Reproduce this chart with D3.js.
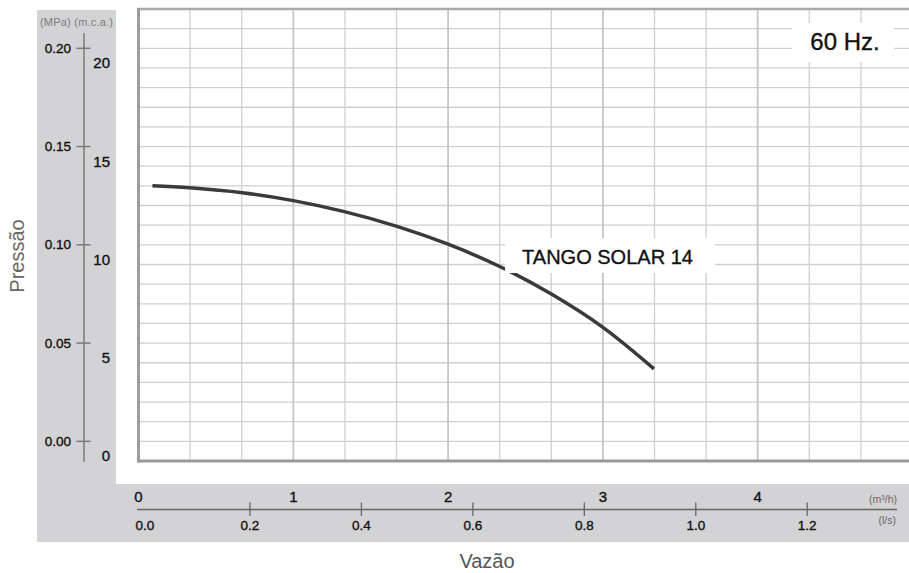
<!DOCTYPE html>
<html>
<head>
<meta charset="utf-8">
<script src="https://cdn.jsdelivr.net/npm/d3@7"></script>
<style>
  body { margin: 0; background: #fff; }
  svg { display: block; font-family: "Liberation Sans", Arial, sans-serif; }
  .lbl { stroke-width: 0.35px; }
</style>
</head>
<body>
<div id="chart"></div>
<script>
// curve: flow in m3/h, pressure in MPa
var flowM3h = [0.09, 0.33, 0.67, 1.0, 1.33, 1.67, 2.0, 2.33, 2.67, 3.0, 3.33];
var pressMPa = [0.130, 0.129, 0.1265, 0.1225, 0.1169, 0.1094, 0.1003, 0.0891, 0.0748, 0.058, 0.0369];
var seriesName = 'TANGO SOLAR 14';

var mpaTicks = [0, 0.05, 0.10, 0.15, 0.20];
var mcaTicks = [0, 5, 10, 15, 20];
var m3hTicks = [0, 1, 2, 3, 4];
var lpsTicks = [0, 0.2, 0.4, 0.6, 0.8, 1.0, 1.2];

var W = 909, H = 573;
var svg = d3.select('#chart').append('svg').attr('width', W).attr('height', H);

var x = d3.scaleLinear().domain([0, 5]).range([138.5, 912.5]);
var lps = d3.scaleLinear().domain([0, 5 / 3.6]).range(x.range());
var y = d3.scaleLinear().domain([-0.01, 0.22]).range([461, 9]);

// grey panels
svg.append('rect').attr('x', 37).attr('y', 10).attr('width', 79).attr('height', 532).attr('fill', '#d3d3d5');
svg.append('rect').attr('x', 37).attr('y', 484).attr('width', W - 37).attr('height', 58).attr('fill', '#d3d3d5');

// grid
var grid = svg.append('g');
grid.selectAll('.hl').data(d3.range(0, 22)).enter().append('line')
    .attr('x1', x(0)).attr('x2', W)
    .attr('y1', function(d) { return y(d / 100); })
    .attr('y2', function(d) { return y(d / 100); })
    .attr('stroke', '#cfcfcf').attr('stroke-width', 1.3);
grid.selectAll('.vl').data(d3.range(1, 15)).enter().append('line')
    .attr('x1', function(d) { return x(d / 3); })
    .attr('x2', function(d) { return x(d / 3); })
    .attr('y1', y(0.22)).attr('y2', y(-0.01))
    .attr('stroke', function(d) { return d % 3 === 0 ? '#c6c6c6' : '#d0d0d0'; })
    .attr('stroke-width', function(d) { return d % 3 === 0 ? 1.8 : 1.3; });

// frame
svg.append('line').attr('x1', x(0) - 1).attr('x2', W).attr('y1', y(0.22)).attr('y2', y(0.22))
    .attr('stroke', '#a9a9a9').attr('stroke-width', 2.5);
svg.append('line').attr('x1', x(0) - 1).attr('x2', W).attr('y1', y(-0.01)).attr('y2', y(-0.01))
    .attr('stroke', '#999').attr('stroke-width', 3);
svg.append('line').attr('x1', x(0)).attr('x2', x(0)).attr('y1', y(0.22) - 1).attr('y2', y(-0.01) + 1.5)
    .attr('stroke', '#9d9d9d').attr('stroke-width', 3);

// 60 Hz label
svg.append('rect').attr('x', 792).attr('y', 23).attr('width', 102).attr('height', 39).attr('fill', '#fff');
svg.append('text').attr('class', 'lbl').attr('x', 845).attr('y', 50).attr('text-anchor', 'middle')
    .attr('font-size', 24).attr('fill', '#111').attr('stroke', '#111').text('60 Hz.');

// curve
var line = d3.line()
    .x(function(d, i) { return x(flowM3h[i]); })
    .y(function(d) { return y(d); })
    .curve(d3.curveCatmullRom.alpha(0.5));
svg.append('path').datum(pressMPa).attr('d', line)
    .attr('fill', 'none').attr('stroke', '#3a3a3a').attr('stroke-width', 3.5);

// series label
svg.append('rect').attr('x', 505).attr('y', 238).attr('width', 210).attr('height', 35).attr('fill', '#fff');
svg.append('text').attr('class', 'lbl').attr('x', 607.5).attr('y', 263.5).attr('text-anchor', 'middle')
    .attr('font-size', 20).attr('fill', '#111').attr('stroke', '#111').text(seriesName);

// left axis
var ax = 84;
svg.append('text').attr('x', 40).attr('y', 26).attr('font-size', 11).attr('fill', '#7a7a7a')
    .attr('textLength', 73).text('(MPa) (m.c.a.)');
svg.append('line').attr('x1', ax).attr('x2', ax).attr('y1', 33).attr('y2', 462)
    .attr('stroke', '#7a7a7a').attr('stroke-width', 1.5);
svg.selectAll('.ytk').data(mpaTicks).enter().append('line')
    .attr('x1', ax - 7.5).attr('x2', ax + 6.5)
    .attr('y1', function(d) { return y(d); }).attr('y2', function(d) { return y(d); })
    .attr('stroke', '#7a7a7a').attr('stroke-width', 1.5);
svg.selectAll('.ylb').data(mpaTicks).enter().append('text').attr('class', 'lbl')
    .attr('x', 71).attr('y', function(d) { return y(d) + 4.5; })
    .attr('text-anchor', 'end').attr('font-size', 13.5).attr('fill', '#111').attr('stroke', '#111')
    .text(function(d) { return d3.format('.2f')(d); });
svg.selectAll('.ymca').data(mcaTicks).enter().append('text').attr('class', 'lbl')
    .attr('x', 110).attr('y', function(d) { return y(d / 100) + 20; })
    .attr('text-anchor', 'end').attr('font-size', 15).attr('fill', '#111').attr('stroke', '#111')
    .text(function(d) { return d; });
svg.append('text').attr('transform', 'translate(24,256) rotate(-90)')
    .attr('text-anchor', 'middle').attr('font-size', 20).attr('fill', '#666').text('Pressão');

// bottom axis
var by = 509.5;
svg.append('line').attr('x1', 137).attr('x2', 897).attr('y1', by).attr('y2', by)
    .attr('stroke', '#666').attr('stroke-width', 1.3);
svg.selectAll('.xtk').data(lpsTicks.slice(1)).enter().append('line')
    .attr('x1', function(d) { return lps(d); }).attr('x2', function(d) { return lps(d); })
    .attr('y1', by - 7).attr('y2', by + 6.5)
    .attr('stroke', '#666').attr('stroke-width', 1.3);
svg.selectAll('.xlps').data(lpsTicks).enter().append('text').attr('class', 'lbl')
    .attr('x', function(d) { return d === 0 ? lps(d) - 3 : lps(d); })
    .attr('y', by + 20.5)
    .attr('text-anchor', function(d) { return d === 0 ? 'start' : 'middle'; })
    .attr('font-size', 13.5).attr('fill', '#111').attr('stroke', '#111')
    .text(function(d) { return d3.format('.1f')(d); });
svg.selectAll('.xm3').data(m3hTicks).enter().append('text').attr('class', 'lbl')
    .attr('x', function(d) { return x(d); }).attr('y', by - 7.5)
    .attr('text-anchor', 'middle').attr('font-size', 15).attr('fill', '#111').attr('stroke', '#111')
    .text(function(d) { return d; });
svg.append('text').attr('x', 897).attr('y', by - 7).attr('text-anchor', 'end')
    .attr('font-size', 10.5).attr('fill', '#666').text('(m³/h)');
svg.append('text').attr('x', 896).attr('y', by + 14).attr('text-anchor', 'end')
    .attr('font-size', 10.5).attr('fill', '#666').text('(l/s)');
svg.append('text').attr('x', 487).attr('y', 568).attr('text-anchor', 'middle')
    .attr('font-size', 20).attr('fill', '#555').text('Vazão');
</script>
</body>
</html>
